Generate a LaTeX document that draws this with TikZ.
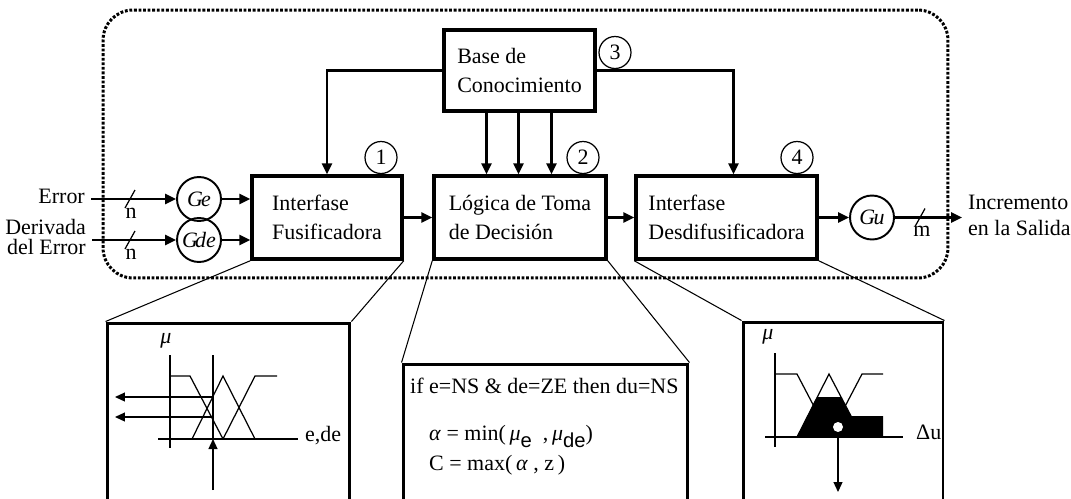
\documentclass[tikz,border=0pt]{standalone}
\usepackage{fontspec}
\setmainfont{Liberation Serif}
\newfontfamily\subsf{Liberation Sans}
\usetikzlibrary{arrows.meta, positioning, calc}

\begin{document}
\begin{tikzpicture}[
    x=0.02cm, y=-0.02cm,
    font=\fontsize{12.5}{16.8}\selectfont,
    blk/.style={draw=black, line width=2pt, align=left, inner sep=0pt, minimum height=1.66cm},
    gain/.style={circle, draw=black, line width=1.1pt, minimum size=0.88cm, inner sep=0pt},
    num/.style={circle, draw=black, line width=0.7pt, minimum size=0.64cm, inner sep=0pt},
    sysframe/.style={draw=black, line width=1.7pt, dash pattern=on 1.6pt off 1pt,
                     rounded corners=0.6cm, inner sep=0pt},
    zoombox/.style={draw=black, line width=1.7pt, inner sep=0pt},
    ar/.style={-{Triangle[length=2.2mm, width=2mm]}, line width=1.4pt},
    thinar/.style={-{Triangle[length=2mm, width=1.8mm]}, line width=0.7pt},
    lk/.style={line width=0.6pt},
    mf/.style={line width=0.7pt},
    bus/.style={line width=0.7pt}
  ]
    \useasboundingbox (0,0) rectangle (1071,498);
    \clip (0,0) rectangle (1071,498);
    % ---- marco del controlador ----
    \node[sysframe, minimum width=16.9cm, minimum height=5.36cm] (sys) at (525.5,144) {};
    % ---- bloques ----
    \node[blk, minimum width=3.02cm, minimum height=1.62cm] (base) at (519.5,70.5) {Base de\\Conocimiento};
    \node[blk, minimum width=3.0cm] (fus) at (327,217.5) {Interfase\\Fusificadora};
    \node[blk, minimum width=3.44cm] (logica) at (520,217.5) {Lógica de Toma\\de Decisión};
    \node[blk, minimum width=3.62cm] (desdif) at (726.5,217.5) {Interfase\\Desdifusificadora};
    \node[num] (n1) at (381,157.5) {1};
    \node[num] (n2) at (583,157.5) {2};
    \node[num] (n3) at (615,52.5) {3};
    \node[num] (n4) at (797,157.5) {4};
    % ---- ganancias ----
    \node[gain] (ge) at (199,199) {\textit{G\kern-1pt e}};
    \node[gain] (gde) at (199,240) {\textit{G\kern-1.5pt de}};
    \node[gain] (gu) at (872,217.5) {\textit{G\kern-1pt u}};
    % ---- entradas y salida ----
    \node[anchor=base east] (err) at (91,203) {Error};
    \node[anchor=east, align=right, font=\fontsize{12.5}{11}\selectfont] (derr) at (92,237)
      {Derivada\\del Error};
    \node[anchor=west, align=left, font=\fontsize{12.5}{14.4}\selectfont] (out) at (962,215.5)
      {Incremento\\en la Salida};
    \coordinate (s1) at (130,199);
    \coordinate (s2) at (130,240);
    \coordinate (s3) at (920,217.5);
    \node (nl1) at (131,213) {n};
    \node (nl2) at (131,254) {n};
    \node (ml) at (922,231) {m};
    % ---- flechas ----
    \draw[ar] (err.east |- ge) -- (ge);
    \draw[ar] (derr.east |- gde) -- (gde);
    \draw[ar] (ge) -- (ge -| fus.west);
    \draw[ar] (gde) -- (gde -| fus.west);
    \draw[ar] (fus) -- (logica);
    \draw[ar] (logica) -- (desdif);
    \draw[ar] (desdif) -- (gu);
    \draw[ar] (gu) -- (gu -| out.west);
    \foreach \c in {s1,s2,s3}
      \draw[bus] ([shift={(-5,9)}]\c) -- ([shift={(5,-9)}]\c);
    \draw[ar] (base.west) -| (fus.north);
    \draw[ar] (base.east) -| ([xshift=0.14cm]desdif.north);
    \foreach \dx in {-33,-1,32}
      \draw[ar] ([xshift=\dx*0.02cm]base.south) -- ([xshift=\dx*0.02cm]base.south |- logica.north);
    % ---- ventanas de detalle ----
    \node[zoombox, minimum width=4.86cm, minimum height=3.74cm] (fzbox) at (228.5,416.5) {};
    \node[zoombox, minimum width=5.7cm, minimum height=2.92cm] (rlbox) at (545.5,437) {};
    \node[zoombox, minimum width=4cm, minimum height=3.76cm] (dfbox) at (843,416) {};
    \draw[lk] (fus.south west) -- (fzbox.north west);
    \draw[lk] (fus.south east) -- (fzbox.north east);
    \draw[lk] (logica.south west) -- (rlbox.north west);
    \draw[lk] (logica.south east) -- (rlbox.north east);
    \draw[lk] (desdif.south west) -- (dfbox.north west);
    \draw[lk] (desdif.south east) -- (dfbox.north east);
    % ---- fusificacion ----
    \node (muA) at (166,341) {\textit{μ}};
    \draw[mf] (170,355) -- (170,448);
    \draw[mf] (158,439) -- (298,439);
    \node[anchor=base west] (axA) at (299,441) {e,de};
    \draw[mf] (170,376) -- (190,376) -- (223,439);
    \draw[mf] (192,439) -- (223,376) -- (255,439);
    \draw[mf] (223,439) -- (255,376) -- (277,376);
    \draw[mf] (213,355) -- (213,439);
    \draw[thinar] (213,490) -- (213,439);
    \draw[thinar] (213,397) -- (115,397);
    \draw[thinar] (213,417) -- (115,417);
    % ---- reglas ----
    \node[anchor=base west] (rule) at (404,393) {if e=NS \& de=ZE then du=NS};
    \node[anchor=base west] (alfa) at (423,440)
      {\textit{α} = min(\,\textit{μ}\raisebox{-4pt}{\subsf\fontsize{11.5}{12}\selectfont e}\ \ ,\,\textit{μ}\raisebox{-4pt}{\subsf\fontsize{11.5}{12}\selectfont de})};
    \node[anchor=base west] (cmax) at (423,470) {C = max(\,\textit{α} , z\,)};
    % ---- desfusificacion ----
    \node (muC) at (768,337) {\textit{μ}};
    \draw[mf] (775,353) -- (775,447);
    \draw[mf] (765,437) -- (903,437);
    \node[anchor=base west] (axC) at (910,439) {Δu};
    \draw[mf] (775,374) -- (797,374) -- (830,437);
    \draw[mf] (797,437) -- (829,374) -- (862,437);
    \draw[mf] (829,437) -- (862,374) -- (883,374);
    \fill[black] (797,437) -- (817,397) -- (841,397) -- (851,416) -- (883,416) -- (883,437) -- cycle;
    \fill[white] (838,427) circle[radius=0.1cm];
    \draw[thinar] (838,432) -- (838,492);
\end{tikzpicture}
\end{document}
